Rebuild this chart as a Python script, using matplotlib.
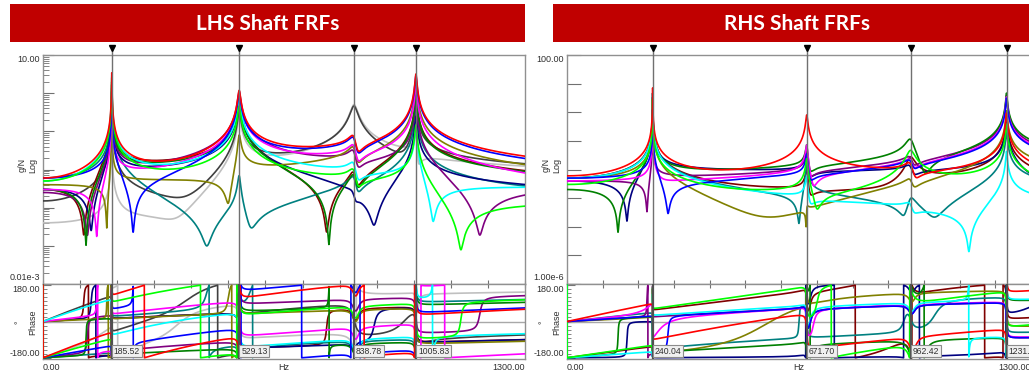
import numpy as np
import matplotlib
matplotlib.use("Agg")
import matplotlib.pyplot as plt
from matplotlib.patches import Rectangle
from matplotlib.ticker import LogLocator, MultipleLocator, NullFormatter, FixedLocator

W, H = 1029, 373
freq = np.linspace(0.0, 1300.0, 5201)

# ---------------- LHS shaft ----------------
lhs_modes = [185.52, 529.13, 838.78, 1005.83]
lhs_damping = [0.0016, 0.0057, 0.01, 0.002]
lhs_colors = ["#FF0000", "#00FF00", "#0000FF", "#00FFFF", "#FF00FF", "#008000",
              "#808000", "#800080", "#000080", "#008080", "#800000", "#404040", "#C0C0C0"]
lhs_levels = [0.006, 0.005, 0.006, 0.005, 0.003, 0.003, 0.004, 0.0025, 0.003, 0.006, 0.003, 0.0015, 0.0004]
lhs_signs = [-1, -1, -1, 1, 1, -1, 1, -1, 1, -1, 1, 1, -1]
lhs_zero_freqs = [
    [848, 450, 470, 500],
    [848, 1127, 420, 420],
    [243, 848, 700, 700],
    [1052, 848, 350, 350],
    [145, 848, 1100, 1100],
    [116, 771, 848, 1200],
    [172, 500, 848, 1500],
    [120, 848, 1178, 600],
    [130, 893, 842, 1300],
    [442, 560, 848, 900],
    [110, 765, 848, 1300],
    [390, 977, 330, 330],
    [190, 364, 1012, 300],
]
lhs_zero_damping = [
    [0.01, 1, 1, 1],
    [0.01, 0.004, 1, 1],
    [0.008, 0.01, 1, 1],
    [0.004, 0.01, 1, 1],
    [0.01, 0.01, 1, 1],
    [0.01, 0.002, 0.01, 1],
    [0.005, 0.01, 0.01, 1],
    [0.02, 0.01, 0.005, 1],
    [0.02, 0.008, 0.008, 1],
    [0.02, 0.02, 0.01, 1],
    [0.02, 0.004, 0.01, 1],
    [0.15, 0.03, 1, 1],
    [0.3, 0.12, 0.004, 1],
]

# ---------------- RHS shaft ----------------
rhs_modes = [240.04, 671.70, 962.42, 1231.44]
rhs_damping = [0.0006, 0.003, 0.01, 0.0012]
rhs_colors = ["#FF0000", "#00FF00", "#0000FF", "#00FFFF", "#FF00FF", "#008000",
              "#808000", "#800080", "#000080", "#008080", "#800000"]
rhs_levels = [0.006, 0.003, 0.005, 0.005, 0.004, 0.002, 0.005, 0.004, 0.004, 0.005, 0.005]
rhs_signs = [1, -1, 1, -1, 1, -1, 1, 1, -1, 1, -1]
rhs_zero_freqs = [
    [975, 900, 900, 900],
    [700, 1000, 1000, 1000],
    [283, 680, 970, 1100],
    [1126, 680, 970, 900],
    [250, 690, 970, 1000],
    [143, 1003, 680, 1000],
    [670, 570, 570, 970],
    [224, 680, 970, 1100],
    [168, 680, 1320, 970],
    [650, 945, 1030, 600],
    [927, 680, 1000, 1000],
]
rhs_zero_damping = [
    [0.01, 1, 1, 1],
    [0.01, 0.3, 1, 1],
    [0.01, 0.01, 0.01, 1],
    [0.002, 0.01, 0.01, 1],
    [0.1, 0.01, 0.01, 1],
    [0.01, 0.01, 0.01, 1],
    [0.001, 0.2, 0.2, 0.01],
    [0.005, 0.01, 0.01, 1],
    [0.01, 0.01, 0.05, 0.01],
    [0.003, 0.01, 0.02, 1],
    [0.08, 0.01, 1, 1],
]


def frf(f, level, sign, zf, zd, modes, damping):
    """Accelerance built from its resonance poles and anti-resonance zeros."""
    h = np.full(f.shape, sign * level, dtype=complex)
    for fz, dz in zip(zf, zd):
        r = f / fz
        h *= 1 - r ** 2 + 2j * dz * r
    for fp, dp in zip(modes, damping):
        r = f / fp
        h /= 1 - r ** 2 + 2j * dp * r
    return h


def px(x):
    return x / W


def py(y):
    return 1 - y / H


TXT = "#303030"
FONT = ["Liberation Sans", "DejaVu Sans"]
FS = 6.5

fig = plt.figure(figsize=(W / 100, H / 100), dpi=100)
fig.patch.set_facecolor("white")


def title_bar(x0, x1, text):
    fig.patches.append(Rectangle((px(x0), py(42)), px(x1) - px(x0), py(4) - py(42),
                                 transform=fig.transFigure, facecolor="#C00000",
                                 edgecolor="none", zorder=0))
    fig.text(px((x0 + x1) / 2), py(24), text, color="white", fontsize=15,
             fontweight="bold", family=["Lato", "DejaVu Sans"], ha="center", va="center")


def panel(x0, x1, modes, damping, colors, levels, signs, zfs, zds, ylim, top_lbl, bot_lbl,
          minor_ticks):
    mag = fig.add_axes([px(x0), py(284), px(x1) - px(x0), py(55) - py(284)])
    ph = fig.add_axes([px(x0), py(359), px(x1) - px(x0), py(284) - py(359)])

    curves = [frf(freq, lv, sg, zf, zd, modes, damping)
              for lv, sg, zf, zd in zip(levels, signs, zfs, zds)]
    for c, h in reversed(list(zip(colors, curves))):
        mag.plot(freq, np.abs(h), color=c, lw=1.2, zorder=3)
        ph.plot(freq, np.degrees(np.angle(h)), color=c, lw=1.2, zorder=3)

    for a in (mag, ph):
        a.set_xlim(0, 1300)
        for s in a.spines.values():
            s.set_color("#909090")
            s.set_linewidth(1.0)
        a.tick_params(which="both", direction="in", colors="#707070",
                      labelleft=False, labelbottom=False, top=False, right=False)
        a.xaxis.set_major_locator(MultipleLocator(100))
        a.tick_params(axis="x", which="major", length=3)

    mag.set_yscale("log")
    mag.set_ylim(*ylim)
    mag.yaxis.set_major_locator(LogLocator(base=10, numticks=20))
    if minor_ticks:
        mag.yaxis.set_minor_locator(LogLocator(base=10, subs=np.arange(2, 10), numticks=20))
        mag.tick_params(axis="y", which="major", length=8)
        mag.tick_params(axis="y", which="minor", length=4)
    else:
        mag.yaxis.set_minor_locator(FixedLocator([]))
        mag.tick_params(axis="y", which="major", length=10)
    mag.yaxis.set_minor_formatter(NullFormatter())
    mag.tick_params(axis="x", top=False, bottom=True)

    ph.set_ylim(-186, 186)
    ph.yaxis.set_major_locator(FixedLocator([-180, 0, 180]))
    ph.yaxis.set_minor_locator(MultipleLocator(20))
    ph.tick_params(axis="y", which="major", length=6)
    ph.tick_params(axis="y", which="minor", length=3)
    ph.tick_params(axis="x", top=True, bottom=False)
    ph.axhline(0, color="#A8A8A8", lw=1.0, zorder=2)

    # resonance markers
    for fm in modes:
        mag.axvline(fm, color="#707070", lw=1.0, zorder=4)
        ph.axvline(fm, color="#505050", lw=1.6, zorder=4)
        tr = mag.get_xaxis_transform()
        mag.plot([fm, fm], [1.0, 1.03], color="#707070", lw=1.0, transform=tr, clip_on=False)
        mag.plot([fm], [1.03], marker="v", color="black", markersize=4.5, transform=tr,
                 clip_on=False)
        ph.annotate(f"{fm:.2f}", xy=(fm, -186), xytext=(1.5, 2.5), textcoords="offset points",
                    ha="left", va="bottom", fontsize=6.2, family=FONT, color=TXT, zorder=6,
                    bbox=dict(boxstyle="square,pad=0.22", fc="#F0F0F0", ec="#8C8C8C", lw=0.8))

    # axis annotations
    fig.text(px(x0 - 3), py(59), top_lbl, ha="right", va="center", fontsize=FS, family=FONT, color=TXT)
    fig.text(px(x0 - 3), py(277), bot_lbl, ha="right", va="center", fontsize=FS, family=FONT, color=TXT)
    fig.text(px(x0 - 3), py(290), "180.00", ha="right", va="center", fontsize=FS, family=FONT, color=TXT)
    fig.text(px(x0 - 3), py(353), "-180.00", ha="right", va="center", fontsize=FS, family=FONT, color=TXT)
    fig.text(px(x0), py(367), "0.00", ha="left", va="center", fontsize=FS, family=FONT, color=TXT)
    fig.text(px(x1), py(367), "1300.00", ha="right", va="center", fontsize=FS, family=FONT, color=TXT)
    fig.text(px((x0 + x1) / 2), py(367), "Hz", ha="center", va="center", fontsize=FS, family=FONT, color=TXT)
    fig.text(px(x0 - 21), py(165), "g/N", ha="center", va="center", rotation=90, fontsize=FS, family=FONT, color=TXT)
    fig.text(px(x0 - 10), py(165), "Log", ha="center", va="center", rotation=90, fontsize=FS, family=FONT, color=TXT)
    fig.text(px(x0 - 10), py(322), "Phase", ha="center", va="center", rotation=90, fontsize=FS, family=FONT, color=TXT)
    fig.text(px(x0 - 24), py(322), "°", ha="center", va="center", rotation=90, fontsize=FS, family=FONT, color=TXT)


title_bar(10, 525, "LHS Shaft FRFs")
title_bar(553, 1040, "RHS Shaft FRFs")

panel(43, 525, lhs_modes, lhs_damping, lhs_colors, lhs_levels, lhs_signs,
      lhs_zero_freqs, lhs_zero_damping, (1e-5, 10), "10.00", "0.01e-3", True)
panel(567, 1031, rhs_modes, rhs_damping, rhs_colors, rhs_levels, rhs_signs,
      rhs_zero_freqs, rhs_zero_damping, (1e-6, 100), "100.00", "1.00e-6", False)

fig.savefig("out.png", dpi=100)
